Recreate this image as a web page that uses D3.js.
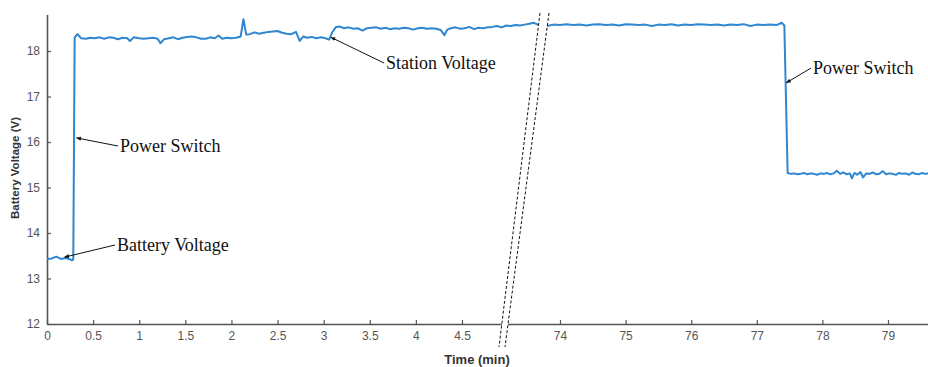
<!DOCTYPE html>
<html>
<head>
<meta charset="utf-8">
<script src="https://cdn.jsdelivr.net/npm/d3@7"></script>
<style>
  body { margin: 0; background: #fff; }
  svg { display: block; }
  .tick text { font-family: "Liberation Sans", Arial, sans-serif; font-size: 12px; fill: #555; }
  .note { font-family: "Liberation Serif", "Times New Roman", serif; font-size: 18px; fill: #111; }
</style>
</head>
<body>
<div id="chart"></div>
<script>
// battery voltage log, first part (minutes 0 - 5.4)
var leftTime = [0, 0.05, 0.1, 0.15, 0.2, 0.24, 0.27, 0.285, 0.3, 0.33, 0.37, 0.42, 0.47, 0.52, 0.57,
  0.62, 0.67, 0.72, 0.77, 0.82, 0.87, 0.9, 0.94, 1.0, 1.05, 1.1, 1.15, 1.2, 1.23, 1.27, 1.32, 1.37,
  1.42, 1.47, 1.52, 1.57, 1.62, 1.67, 1.72, 1.77, 1.82, 1.86, 1.9, 1.95, 2.0, 2.05, 2.1, 2.13, 2.16,
  2.2, 2.25, 2.3, 2.35, 2.4, 2.45, 2.5, 2.55, 2.6, 2.65, 2.7, 2.74, 2.78, 2.82, 2.87, 2.92, 2.97,
  3.02, 3.06, 3.09, 3.13, 3.17, 3.22, 3.27, 3.32, 3.37, 3.42, 3.47, 3.52, 3.57, 3.62, 3.67, 3.72,
  3.77, 3.82, 3.87, 3.92, 3.97, 4.02, 4.07, 4.12, 4.17, 4.22, 4.27, 4.31, 4.34, 4.38, 4.43, 4.48,
  4.53, 4.58, 4.63, 4.68, 4.73, 4.78, 4.83, 4.88, 4.93, 4.98, 5.03, 5.08, 5.13, 5.18, 5.23, 5.28,
  5.32, 5.38];
var leftVolt = [13.43, 13.44, 13.48, 13.43, 13.45, 13.43, 13.40, 13.42, 18.30, 18.37, 18.28, 18.27, 18.29, 18.28, 18.30,
  18.27, 18.30, 18.29, 18.26, 18.29, 18.28, 18.22, 18.30, 18.28, 18.27, 18.28, 18.29, 18.27, 18.17, 18.26, 18.28, 18.30,
  18.26, 18.29, 18.31, 18.32, 18.30, 18.27, 18.27, 18.30, 18.28, 18.34, 18.27, 18.29, 18.28, 18.29, 18.32, 18.70, 18.36,
  18.37, 18.41, 18.38, 18.40, 18.42, 18.43, 18.44, 18.40, 18.38, 18.37, 18.42, 18.22, 18.32, 18.29, 18.31, 18.28, 18.30,
  18.28, 18.25, 18.40, 18.52, 18.54, 18.50, 18.52, 18.49, 18.50, 18.45, 18.50, 18.51, 18.52, 18.49, 18.51, 18.48,
  18.50, 18.49, 18.51, 18.50, 18.47, 18.50, 18.51, 18.49, 18.50, 18.49, 18.46, 18.35, 18.47, 18.50, 18.52, 18.49,
  18.50, 18.53, 18.48, 18.51, 18.50, 18.52, 18.53, 18.55, 18.52, 18.56, 18.55, 18.57, 18.56, 18.58, 18.60, 18.62,
  18.58, 18.56];

// second part (minutes 73.7 - 79.6)
var rightTime = [73.7, 73.8, 73.9, 74.0, 74.1, 74.2, 74.3, 74.4, 74.5, 74.6, 74.7, 74.8, 74.9, 75.0,
  75.1, 75.2, 75.3, 75.4, 75.5, 75.6, 75.7, 75.8, 75.9, 76.0, 76.1, 76.2, 76.3, 76.4, 76.5, 76.6,
  76.7, 76.8, 76.9, 77.0, 77.1, 77.2, 77.3, 77.38, 77.42, 77.47, 77.52, 77.57, 77.62, 77.67, 77.72,
  77.77, 77.82, 77.87, 77.92, 77.97, 78.02, 78.07, 78.12, 78.17, 78.22, 78.27, 78.32, 78.37, 78.42,
  78.45, 78.49, 78.53, 78.58, 78.62, 78.67, 78.72, 78.77, 78.82, 78.87, 78.92, 78.97, 79.02, 79.07,
  79.12, 79.17, 79.22, 79.27, 79.32, 79.37, 79.42, 79.47, 79.52, 79.57, 79.62];
var rightVolt = [18.56, 18.55, 18.58, 18.57, 18.59, 18.57, 18.58, 18.56, 18.58, 18.59, 18.57, 18.58, 18.56, 18.59,
  18.58, 18.57, 18.58, 18.55, 18.58, 18.57, 18.59, 18.56, 18.58, 18.57, 18.59, 18.58, 18.57, 18.58, 18.56, 18.58,
  18.57, 18.59, 18.55, 18.58, 18.57, 18.58, 18.57, 18.62, 18.56, 15.32, 15.30, 15.31, 15.29, 15.30, 15.32,
  15.29, 15.31, 15.30, 15.28, 15.31, 15.30, 15.32, 15.29, 15.31, 15.37, 15.30, 15.33, 15.29, 15.31,
  15.20, 15.32, 15.28, 15.34, 15.22, 15.31, 15.30, 15.33, 15.29, 15.30, 15.36, 15.29, 15.31, 15.30,
  15.28, 15.32, 15.30, 15.31, 15.28, 15.33, 15.30, 15.29, 15.32, 15.30, 15.31];

var leftTicks = [0, 0.5, 1, 1.5, 2, 2.5, 3, 3.5, 4, 4.5];
var rightTicks = [74, 75, 76, 77, 78, 79];
var voltTicks = [12, 13, 14, 15, 16, 17, 18];

// callouts: label, which panel, point (min, V)
var noteLabels = ["Power Switch", "Battery Voltage", "Station Voltage", "Power Switch"];
var notePanel = ["L", "L", "L", "R"];
var noteTime = [0.32, 0.19, 3.08, 77.45];
var noteVolt = [16.09, 13.47, 18.30, 17.30];

var width = 928, height = 367;

var xL = d3.scaleLinear().domain([0, 5.346]).range([47, 540]);
var xR = d3.scaleLinear().domain([73.085, 79.61]).range([500, 928]);
var y = d3.scaleLinear().domain([12, 18.8]).range([324, 14.6]);

var svg = d3.select("#chart").append("svg")
  .attr("width", width)
  .attr("height", height);

// slanted axis break
var brk1 = [[541.6, 0], [496.5, 367]];
var brk2 = [[550.7, 0], [502.4, 367]];

var defs = svg.append("defs");
defs.append("clipPath").attr("id", "clipL")
  .append("polygon")
  .attr("points", [[0, 0], brk1[0], brk1[1], [0, height]].join(" "));
defs.append("clipPath").attr("id", "clipR")
  .append("polygon")
  .attr("points", [brk2[0], [width, 0], [width, height], brk2[1]].join(" "));
defs.append("marker").attr("id", "head")
  .attr("viewBox", "0 0 10 10")
  .attr("refX", 9).attr("refY", 5)
  .attr("markerWidth", 5).attr("markerHeight", 5)
  .attr("orient", "auto")
  .append("path").attr("d", "M0,1L10,5L0,9z").attr("fill", "#111");

function styleAxis(g) {
  g.select(".domain").attr("stroke", "#555").attr("stroke-width", 1.6);
  g.selectAll(".tick line").attr("stroke", "#555").attr("stroke-width", 1.2);
}

// x axes (outer g holds the clip so it is in page coordinates)
var gxL = svg.append("g")
  .attr("clip-path", "url(#clipL)")
  .append("g")
  .attr("transform", "translate(0," + y(12) + ")")
  .call(d3.axisBottom(xL).tickValues(leftTicks).tickSizeInner(-4).tickSizeOuter(0).tickPadding(7)
    .tickFormat(d3.format("")));
styleAxis(gxL);

var gxR = svg.append("g")
  .attr("clip-path", "url(#clipR)")
  .append("g")
  .attr("transform", "translate(0," + y(12) + ")")
  .call(d3.axisBottom(xR).tickValues(rightTicks).tickSizeInner(-4).tickSizeOuter(0).tickPadding(7)
    .tickFormat(d3.format("d")));
styleAxis(gxR);

// y axis
var gy = svg.append("g")
  .attr("transform", "translate(" + xL(0) + ",0)")
  .call(d3.axisLeft(y).tickValues(voltTicks).tickSizeInner(-4).tickSizeOuter(0).tickPadding(7)
    .tickFormat(d3.format("d")));
styleAxis(gy);

// data lines
var lineL = d3.line().x(function(d) { return xL(d[0]); }).y(function(d) { return y(d[1]); });
var lineR = d3.line().x(function(d) { return xR(d[0]); }).y(function(d) { return y(d[1]); });

svg.append("path")
  .datum(d3.zip(leftTime, leftVolt))
  .attr("clip-path", "url(#clipL)")
  .attr("fill", "none")
  .attr("stroke", "#2f86d1")
  .attr("stroke-width", 2)
  .attr("stroke-linejoin", "round")
  .attr("d", lineL);

svg.append("path")
  .datum(d3.zip(rightTime, rightVolt))
  .attr("clip-path", "url(#clipR)")
  .attr("fill", "none")
  .attr("stroke", "#2f86d1")
  .attr("stroke-width", 2)
  .attr("stroke-linejoin", "round")
  .attr("d", lineR);

// break lines
[[[540, 13], [499, 347]], [[549, 13], [505, 347]]].forEach(function(p) {
  svg.append("line")
    .attr("x1", p[0][0]).attr("y1", p[0][1])
    .attr("x2", p[1][0]).attr("y2", p[1][1])
    .attr("stroke", "#111")
    .attr("stroke-width", 1)
    .attr("stroke-dasharray", "3,2");
});

// axis titles
svg.append("text")
  .attr("x", 477).attr("y", 364)
  .attr("text-anchor", "middle")
  .style("font-family", "Liberation Sans, Arial, sans-serif")
  .style("font-size", "13px").style("font-weight", "bold").style("fill", "#333")
  .text("Time (min)");

svg.append("text")
  .attr("transform", "translate(19," + 168 + ")rotate(-90)")
  .attr("text-anchor", "middle")
  .style("font-family", "Liberation Sans, Arial, sans-serif")
  .style("font-size", "11.5px").style("font-weight", "bold").style("fill", "#333")
  .text("Battery Voltage (V)");

// callouts
var textPos = [[120, 152], [117, 251], [386, 69], [813, 74]];
noteLabels.forEach(function(label, i) {
  var px = notePanel[i] === "L" ? xL(noteTime[i]) : xR(noteTime[i]);
  var py = y(noteVolt[i]);
  var tx = textPos[i][0], ty = textPos[i][1] - 6;
  svg.append("line")
    .attr("x1", tx - 2).attr("y1", ty)
    .attr("x2", px).attr("y2", py)
    .attr("stroke", "#111")
    .attr("stroke-width", 1)
    .attr("marker-end", "url(#head)");
  svg.append("text")
    .attr("class", "note")
    .attr("x", textPos[i][0]).attr("y", textPos[i][1])
    .text(label);
});
</script>
</body>
</html>
